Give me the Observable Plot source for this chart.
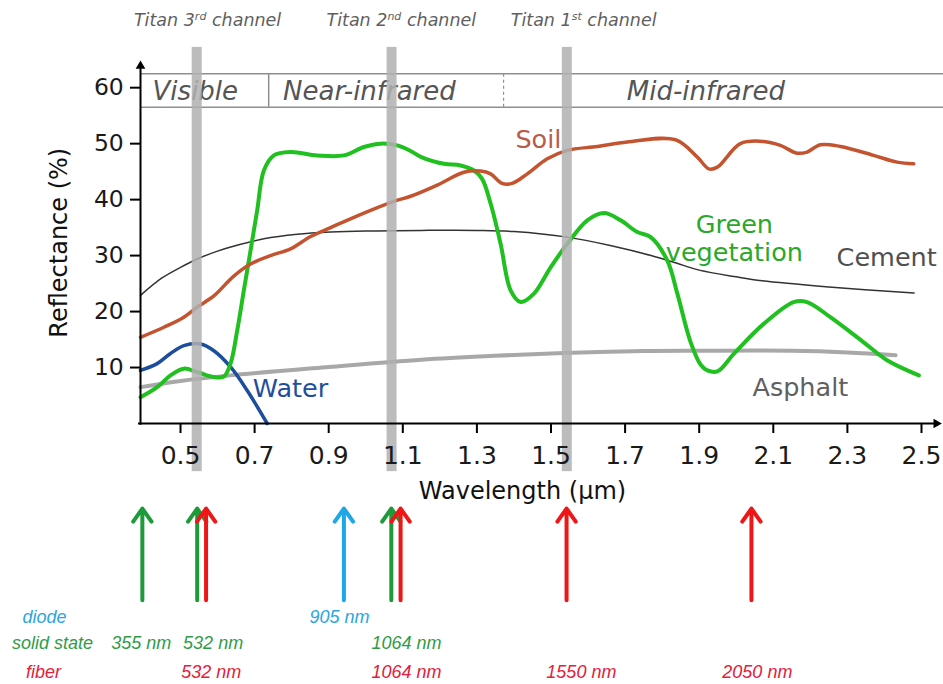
<!DOCTYPE html>
<html><head><meta charset="utf-8">
<script src="https://cdn.jsdelivr.net/npm/d3@7"></script>
<script src="https://cdn.jsdelivr.net/npm/@observablehq/plot@0.6"></script>
<style>html,body{margin:0;padding:0;background:#fff;} #chart svg{display:block;}</style>
</head><body><div id="chart"></div>
<script>
// ---------- data ----------
const soilX = [0.392,0.455,0.509,0.545,0.590,0.643,0.689,0.743,0.797,0.851,0.905,0.995,1.076,1.121,1.193,1.265,1.310,1.337,1.368,1.395,1.436,1.490,1.544,1.625,1.706,1.836,1.895,1.926,1.949,2.011,2.074,2.119,2.164,2.191,2.227,2.281,2.371,2.434,2.479];
const soilR = [15.4,17.2,19.0,20.8,22.8,26.3,28.5,30.0,31.2,33.4,35.0,37.6,39.7,40.6,42.6,44.9,45.1,44.6,42.9,42.9,44.6,47.3,48.8,49.5,50.3,50.7,47.6,45.5,45.8,50.0,50.4,49.7,48.3,48.5,49.8,49.5,47.9,46.7,46.4];

const vegX = [0.392,0.437,0.473,0.509,0.545,0.590,0.617,0.635,0.653,0.671,0.689,0.707,0.725,0.752,0.797,0.869,0.941,0.995,1.040,1.085,1.121,1.150,1.211,1.256,1.292,1.314,1.337,1.364,1.391,1.418,1.454,1.499,1.544,1.598,1.643,1.688,1.733,1.769,1.814,1.841,1.877,1.904,1.922,1.949,1.994,2.074,2.155,2.191,2.254,2.344,2.407,2.493];
const vegR = [4.7,6.5,8.6,9.8,9.2,8.3,8.4,10.7,16.6,23.8,30.9,38.1,45.2,47.9,48.5,47.9,47.9,49.4,50.0,49.7,48.7,47.6,46.4,46.1,45.2,43.7,39.3,32.1,23.8,21.7,23.2,27.9,32.1,36.3,37.6,36.3,34.2,33.3,29.1,23.2,14.5,10.5,9.5,9.3,12.5,17.8,21.7,21.7,19.0,14.5,11.3,8.6];

const cementX = [0.392,0.450,0.500,0.545,0.600,0.650,0.725,0.815,0.905,1.000,1.150,1.300,1.400,1.544,1.660,1.770,1.850,1.900,2.000,2.070,2.250,2.480];
const cementR = [22.9,26.0,27.9,29.4,30.8,31.8,33.0,33.8,34.2,34.4,34.5,34.5,34.3,33.3,31.8,30.0,28.4,27.4,26.2,25.5,24.4,23.3];

const waterX = [0.392,0.437,0.473,0.509,0.554,0.590,0.635,0.680,0.734];
const waterR = [9.5,10.7,12.5,13.9,14.2,13.0,10.1,5.9,0.0];

const asphaltX = [0.392,0.500,0.635,0.900,1.150,1.350,1.535,1.750,1.900,2.150,2.300,2.430];
const asphaltR = [6.5,7.6,8.6,10.1,11.4,12.1,12.6,12.95,13.0,13.0,12.7,12.2];

const seriesNames = ["Soil","Green\nvegetation","Cement","Water","Asphalt"];
const seriesLabelX = [1.466,1.995,2.406,0.797,2.173];
const seriesLabelY = [50.9,33.1,29.7,6.4,6.6];
const seriesLabelColor = ["#b95b48","#2aa82a","#505050","#1f4e9c","#606060"];

const xTicks = [0.5,0.7,0.9,1.1,1.3,1.5,1.7,1.9,2.1,2.3,2.5];
const yTicks = [10,20,30,40,50,60];

const channelX = [0.545,1.071,1.544];
const channelLabels = ["Titan 3rd channel","Titan 2nd channel","Titan 1st channel"];
const channelLabelX = [0.573,1.096,1.588];

const regionNames = ["Visible","Near-infrared","Mid-infrared"];
const regionLabelX = [0.540,1.010,1.918];
const regionBoxY = [56.5,62.5];
const regionSolidDivider = [0.738];
const regionDashedDivider = [1.372];

const laserX = [0.397,0.545,0.569,0.941,1.069,1.094,1.542,2.041];
const laserType = ["solid","solid","fiber","diode","solid","fiber","fiber","fiber"];

const typeNames = ["diode","solid state","fiber"];
const typeKeys = ["diode","solid","fiber"];
const typeLabelX = [0.133,0.1545,0.130];
const typeRowY = [-34.66,-39.3,-44.5];

const wlText = ["905 nm","355 nm","532 nm","1064 nm","532 nm","1064 nm","1550 nm","2050 nm"];
const wlType = ["diode","solid","solid","solid","fiber","fiber","fiber","fiber"];
const wlX = [0.929,0.394,0.588,1.110,0.583,1.110,1.582,2.057];

// ---------- layout constants ----------
const xMin = 0.392, xMax = 2.5594, yMax = 64.5;
const pxX = (943 - 140) / (xMax - xMin);   // px per µm
const pxY = (684 - 261 - 62) / yMax;        // px per %
const arrowColor = {diode: "#1ea7e8", solid: "#1f9a3a", fiber: "#ee1616"};
const textColor = {diode: "#2aa6de", solid: "#2f9c48", fiber: "#e3203a"};
const rowY = Object.fromEntries(typeKeys.map((k, i) => [k, typeRowY[i]]));

const rows = (xs, ys) => xs.map((x, i) => ({x, y: ys[i]}));

const chart = Plot.plot({
  width: 943, height: 684,
  marginLeft: 140, marginRight: 0, marginTop: 62, marginBottom: 261,
  x: {domain: [xMin, xMax], axis: null},
  y: {domain: [0, yMax], axis: null},
  style: {fontFamily: "DejaVu Sans", background: "white", overflow: "visible"},
  marks: [
    // spectral region box
    Plot.ruleY(regionBoxY, {x1: xMin, x2: xMax, stroke: "#8f8f8f", strokeWidth: 1.5}),
    Plot.ruleX(regionSolidDivider, {y1: regionBoxY[0], y2: regionBoxY[1], stroke: "#8f8f8f", strokeWidth: 1.5}),
    Plot.ruleX(regionDashedDivider, {y1: regionBoxY[0], y2: regionBoxY[1], stroke: "#8f8f8f", strokeWidth: 1.2, strokeDasharray: "3,3"}),
    Plot.text(regionNames, {x: (d, i) => regionLabelX[i], y: (regionBoxY[0] + regionBoxY[1]) / 2 - 0.25, text: d => d,
      fontSize: 26, fontStyle: "italic", fill: "#555"}),
    // spectra
    Plot.line(rows(asphaltX, asphaltR), {x: "x", y: "y", stroke: "#a8a8a8", strokeWidth: 4, curve: "catmull-rom"}),
    Plot.line(rows(cementX, cementR), {x: "x", y: "y", stroke: "#333", strokeWidth: 1.5, curve: "catmull-rom"}),
    Plot.line(rows(waterX, waterR), {x: "x", y: "y", stroke: "#1c4e9c", strokeWidth: 3.5, curve: "catmull-rom"}),
    Plot.line(rows(vegX, vegR), {x: "x", y: "y", stroke: "#20c020", strokeWidth: 4, curve: "catmull-rom"}),
    Plot.line(rows(soilX, soilR), {x: "x", y: "y", stroke: "#c4532f", strokeWidth: 3.5, curve: "catmull-rom"}),
    // Titan channel bands
    Plot.rect(channelX, {x1: d => d - 0.0135, x2: d => d + 0.0135, y1: -8.6, y2: 67.2, fill: "#b0b0b0", fillOpacity: 0.85}),
    // axes
    Plot.ruleX([xMin], {y1: -0.3, y2: 63.4, stroke: "black", strokeWidth: 2}),
    Plot.ruleY([0], {x1: xMin - 2 / pxX, x2: 2.536, stroke: "black", strokeWidth: 2}),
    Plot.dot([xMin], {x: d => d, y: 63.87, symbol: "triangle", r: 3.6, fill: "black", stroke: null}),
    Plot.dot([0], {x: 2.540, y: d => d, symbol: "triangle", r: 3.6, rotate: 90, fill: "black", stroke: null}),
    Plot.ruleX(xTicks, {y1: 0, y2: -10 / pxY, stroke: "black", strokeWidth: 2}),
    Plot.ruleY(yTicks, {x1: xMin - 10 / pxX, x2: xMin, stroke: "black", strokeWidth: 2}),
    Plot.text(xTicks, {x: d => d, y: -5.84, text: d => d.toFixed(1), fontSize: 25, fill: "#1a1a1a"}),
    Plot.text(yTicks, {x: xMin - 16.7 / pxX, y: d => d, text: d => String(d), textAnchor: "end", fontSize: 23.5, fill: "#1a1a1a"}),
    Plot.text(["Wavelength (µm)"], {x: 1.423, y: -12.15, text: d => d, fontSize: 24, fill: "#111"}),
    Plot.text(["Reflectance (%)"], {x: 0.1734, y: 32.3, text: d => d, rotate: -90, fontSize: 24, fill: "#111"}),
    // series labels
    Plot.text(seriesNames, {x: (d, i) => seriesLabelX[i], y: (d, i) => seriesLabelY[i], text: d => d,
      fill: (d, i) => seriesLabelColor[i], fontSize: 25.5, lineHeight: 1.1}),
    // Titan channel labels
    Plot.text(channelLabels, {x: (d, i) => channelLabelX[i], y: 72.0, text: d => d, fontSize: 17.5, fontStyle: "italic", fill: "#5f5f5f"}),
    // laser wavelength arrows
    Plot.arrow(laserX, {x: d => d, y1: -31.6, y2: -15.2, stroke: (d, i) => arrowColor[laserType[i]],
      strokeWidth: 4, headLength: 6, headAngle: 70}),
    Plot.text(typeNames, {x: (d, i) => typeLabelX[i], y: (d, i) => typeRowY[i], text: d => d,
      fill: (d, i) => textColor[typeKeys[i]], fontFamily: "Liberation Sans", fontStyle: "italic", fontSize: 18}),
    Plot.text(wlText, {x: (d, i) => wlX[i], y: (d, i) => rowY[wlType[i]], text: d => d,
      fill: (d, i) => textColor[wlType[i]], fontFamily: "Liberation Sans", fontStyle: "italic", fontSize: 18})
  ]
});

// superscript ordinals in the channel labels
const NS = "http://www.w3.org/2000/svg";
chart.querySelectorAll("text").forEach(t => {
  const m = /^Titan (\d)(st|nd|rd) channel$/.exec(t.textContent);
  if (!m) return;
  t.textContent = "";
  const a = document.createElementNS(NS, "tspan"); a.textContent = "Titan " + m[1];
  const b = document.createElementNS(NS, "tspan"); b.textContent = m[2];
  b.setAttribute("font-size", "11px"); b.setAttribute("dy", "-6");
  const c = document.createElementNS(NS, "tspan"); c.textContent = " channel"; c.setAttribute("dy", "6");
  t.append(a, b, c);
});

document.getElementById("chart").append(chart);
</script>
</body></html>
